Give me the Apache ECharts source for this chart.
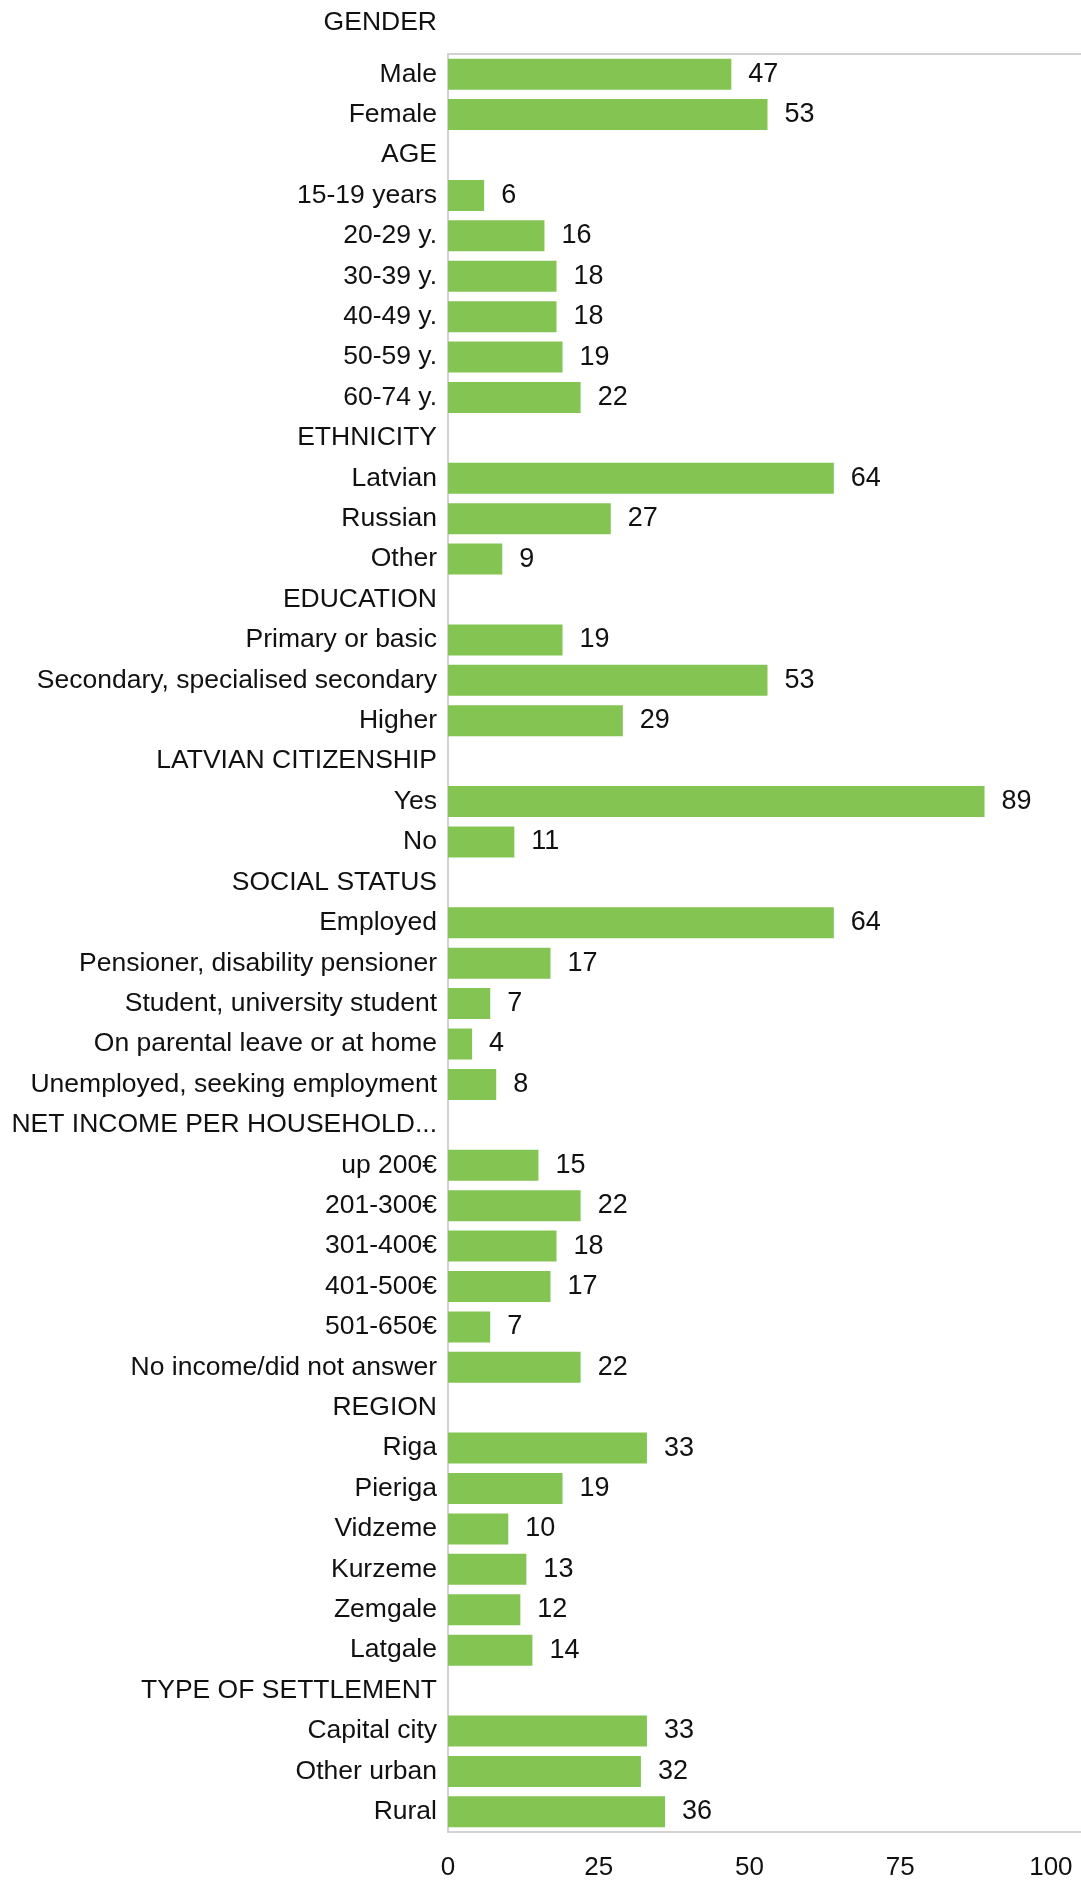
<!DOCTYPE html>
<html>
<head>
<meta charset="utf-8">
<title>Respondent profile</title>
<script src="https://cdn.jsdelivr.net/npm/echarts@6/dist/echarts.min.js"></script>
<style>
  html, body { margin: 0; padding: 0; background: #ffffff; }
  #chart { width: 1081px; height: 1881px; }
</style>
</head>
<body>
<div id="chart"></div>
<script>
// Row labels: section headings (no bar) followed by their groups
const categories = [
  'GENDER', 'Male', 'Female',
  'AGE', '15-19 years', '20-29 y.', '30-39 y.', '40-49 y.', '50-59 y.', '60-74 y.',
  'ETHNICITY', 'Latvian', 'Russian', 'Other',
  'EDUCATION', 'Primary or basic', 'Secondary, specialised secondary', 'Higher',
  'LATVIAN CITIZENSHIP', 'Yes', 'No',
  'SOCIAL STATUS', 'Employed', 'Pensioner, disability pensioner', 'Student, university student',
  'On parental leave or at home', 'Unemployed, seeking employment',
  'NET INCOME PER HOUSEHOLD...', 'up 200€', '201-300€', '301-400€', '401-500€', '501-650€',
  'No income/did not answer',
  'REGION', 'Riga', 'Pieriga', 'Vidzeme', 'Kurzeme', 'Zemgale', 'Latgale',
  'TYPE OF SETTLEMENT', 'Capital city', 'Other urban', 'Rural'
];

// Share of respondents, %; null for heading rows
const values = [
  null, 47, 53,
  null, 6, 16, 18, 18, 19, 22,
  null, 64, 27, 9,
  null, 19, 53, 29,
  null, 89, 11,
  null, 64, 17, 7, 4, 8,
  null, 15, 22, 18, 17, 7, 22,
  null, 33, 19, 10, 13, 12, 14,
  null, 33, 32, 36
];

const xTicks = [0, 25, 50, 75, 100];

const FONT = '"Helvetica Neue", Helvetica, "Liberation Sans", Arial, sans-serif';
const TEXT = '#111111';
const FRAME = '#d2d2d2';
const BAR = '#83c453';
const AXIS_MAX = 105;
const TICK_STEP = xTicks[1] - xTicks[0];

// First row sits above the framed plot; the rest go into the main grid
const headCats = categories.slice(0, 1);
const bodyCats = categories.slice(1);
const bodyVals = values.slice(1);

const chart = echarts.init(document.getElementById('chart'));

chart.setOption({
  animation: false,
  backgroundColor: '#ffffff',
  grid: [
    { left: 448, right: 0, top: 2, height: 40.5, containLabel: false },
    { left: 448, right: 0, top: 54, bottom: 48.5, containLabel: false }
  ],
  xAxis: [
    {
      gridIndex: 0, type: 'value', min: 0, max: AXIS_MAX, show: false
    },
    {
      gridIndex: 1, type: 'value', position: 'bottom',
      min: 0, max: AXIS_MAX, interval: TICK_STEP,
      axisLine: { show: true, lineStyle: { color: FRAME, width: 2 } },
      axisTick: { show: false },
      splitLine: { show: false },
      axisLabel: {
        margin: 23,
        fontSize: 26, fontFamily: FONT, color: TEXT,
        showMaxLabel: false,
        formatter: function (v) { return xTicks.indexOf(v) >= 0 ? String(v) : ''; }
      }
    },
    {
      gridIndex: 1, type: 'value', position: 'top',
      min: 0, max: AXIS_MAX, interval: TICK_STEP,
      axisLine: { show: true, lineStyle: { color: FRAME, width: 2 } },
      axisTick: { show: false },
      splitLine: { show: false },
      axisLabel: { show: false }
    }
  ],
  yAxis: [
    {
      gridIndex: 0, type: 'category', inverse: true, data: headCats,
      axisLine: { show: false }, axisTick: { show: false },
      axisLabel: { margin: 11, fontSize: 26.5, fontFamily: FONT, color: TEXT }
    },
    {
      gridIndex: 1, type: 'category', inverse: true, data: bodyCats,
      axisLine: { show: true, lineStyle: { color: FRAME, width: 2 } },
      axisTick: { show: false },
      axisLabel: {
        margin: 11, fontSize: 26.5, fontFamily: FONT, color: TEXT, interval: 0
      }
    }
  ],
  series: [
    {
      type: 'bar',
      xAxisIndex: 1,
      yAxisIndex: 1,
      data: bodyVals,
      barWidth: 31,
      itemStyle: { color: BAR },
      label: {
        show: true,
        position: 'right',
        distance: 17,
        fontSize: 27,
        fontFamily: FONT,
        color: TEXT,
        formatter: function (p) { return p.value == null ? '' : String(p.value); }
      }
    }
  ]
});
</script>
</body>
</html>
